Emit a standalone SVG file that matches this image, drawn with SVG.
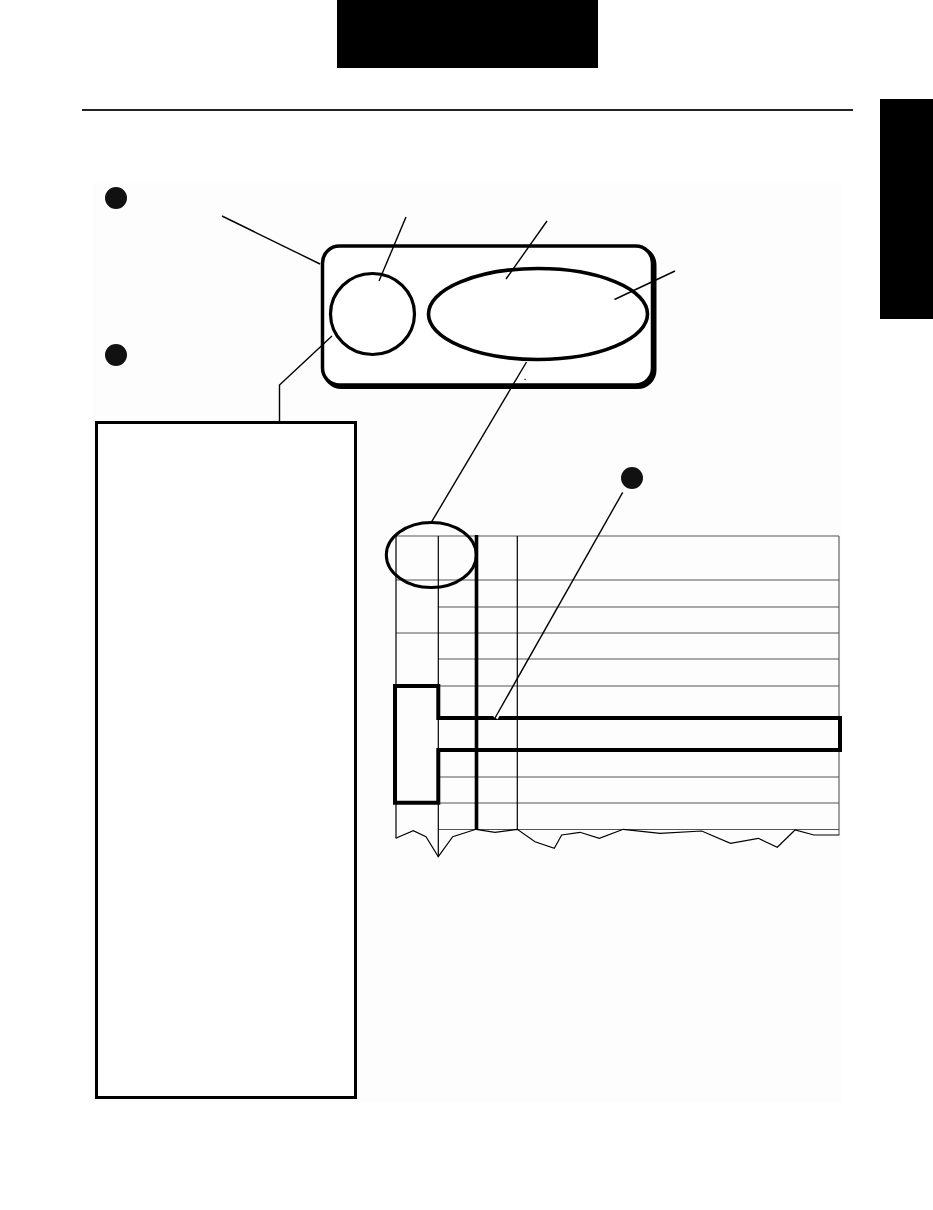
<svg xmlns="http://www.w3.org/2000/svg" width="933" height="1210" viewBox="0 0 933 1210">
<style>
.thin{stroke:#000;stroke-width:1.2;fill:none}
.grid{stroke:#555;stroke-width:1.1;fill:none}
.thick{stroke:#000;stroke-width:4;fill:none}
.lead{stroke:#000;stroke-width:1.4;fill:none}
.halo{stroke:#fff;stroke-width:5;fill:none}
.dot{fill:#111}
</style>
<rect x="0" y="0" width="933" height="1210" fill="#fff"/>
<rect x="93" y="183" width="749" height="920" fill="#fdfdfd"/>
<g id="header">
<rect x="337" y="0" width="261" height="68" fill="#000"/>
<line x1="82" y1="110" x2="853" y2="110" stroke="#222" stroke-width="2.2"/>
<rect x="880" y="99" width="53" height="220" fill="#000"/>
</g>
<g id="bullets">
<circle class="dot" cx="116" cy="198" r="11"/>
<circle class="dot" cx="116" cy="355" r="11"/>
<circle class="dot" cx="632" cy="478" r="11"/>
</g>
<g id="panel">
<rect x="324.5" y="248" width="330" height="139" rx="17" class="thick"/>
<rect x="322.5" y="246" width="330" height="139" rx="17" fill="#fff" stroke="#000" stroke-width="3.5"/>
<rect x="524.5" y="378.8" width="1.2" height="1.2" fill="#000"/>
</g>
<g id="knob">
<ellipse cx="372.5" cy="314" rx="42" ry="40.5" fill="none" stroke="#000" stroke-width="3.2"/>
</g>
<g id="display">
<ellipse cx="538" cy="314" rx="109.5" ry="45.5" fill="none" stroke="#000" stroke-width="3.6"/>
</g>
<g id="textbox">
<rect x="96.5" y="422.5" width="259" height="675" fill="#fff" stroke="#000" stroke-width="3"/>
</g>
<g id="grid">
<line class="grid" x1="396" y1="536" x2="839" y2="536"/>
<line class="grid" x1="396" y1="580" x2="839" y2="580"/>
<line class="grid" x1="438" y1="607" x2="839" y2="607"/>
<line class="grid" x1="396" y1="633" x2="839" y2="633"/>
<line class="grid" x1="438" y1="659" x2="839" y2="659"/>
<line class="grid" x1="438" y1="686" x2="839" y2="686"/>
<line class="grid" x1="438" y1="777" x2="839" y2="777"/>
<line class="grid" x1="438" y1="803" x2="839" y2="803"/>
<line class="grid" x1="438" y1="829.5" x2="839" y2="829.5"/>
<line class="thin" x1="396" y1="536" x2="396" y2="838.3"/>
<line class="thin" x1="438.3" y1="536" x2="438.3" y2="856.7"/>
<line class="thin" x1="517.3" y1="536" x2="517.3" y2="829.3"/>
<line class="grid" x1="839" y1="536" x2="839" y2="835" stroke="#888"/>
<line x1="476.5" y1="535" x2="476.5" y2="829.5" stroke="#000" stroke-width="3.6"/>
<polyline class="thin" points="395.7,838.3 413.3,830.7 426,836.7 438.3,856.7 452.7,836.7 476,829.3 495,832.3 517.3,829.3 535,841.7 554.3,848.3 561.7,835 580,832.3 599.3,838.3 623.3,829.3 660,833.3 701.7,831 730.5,843.3 758.3,838.3 777.3,847.3 795,830 814,835 839.3,835"/>
<path class="thick" d="M395,686 H438.3 V718 H840 V750 H438.3 V802.7 H395 Z"/>
<ellipse cx="431.3" cy="555" rx="45" ry="32.5" fill="none" stroke="#000" stroke-width="3"/>
</g>
<g id="connectors">
<line class="lead" x1="222" y1="216" x2="320" y2="264"/>
<line class="lead" x1="406" y1="217" x2="379" y2="281"/>
<line class="lead" x1="547" y1="221" x2="506" y2="279"/>
<line class="lead" x1="675" y1="271" x2="614.5" y2="299.5"/>
<polyline class="lead" points="332,336 279.5,385 279.5,421"/>
<line class="lead" x1="526.5" y1="362" x2="431.7" y2="521.7"/>
<line class="halo" x1="500" y1="710" x2="495.5" y2="718" stroke-width="4"/>
<line class="lead" x1="622.7" y1="492.3" x2="495" y2="718"/>
</g>
</svg>
